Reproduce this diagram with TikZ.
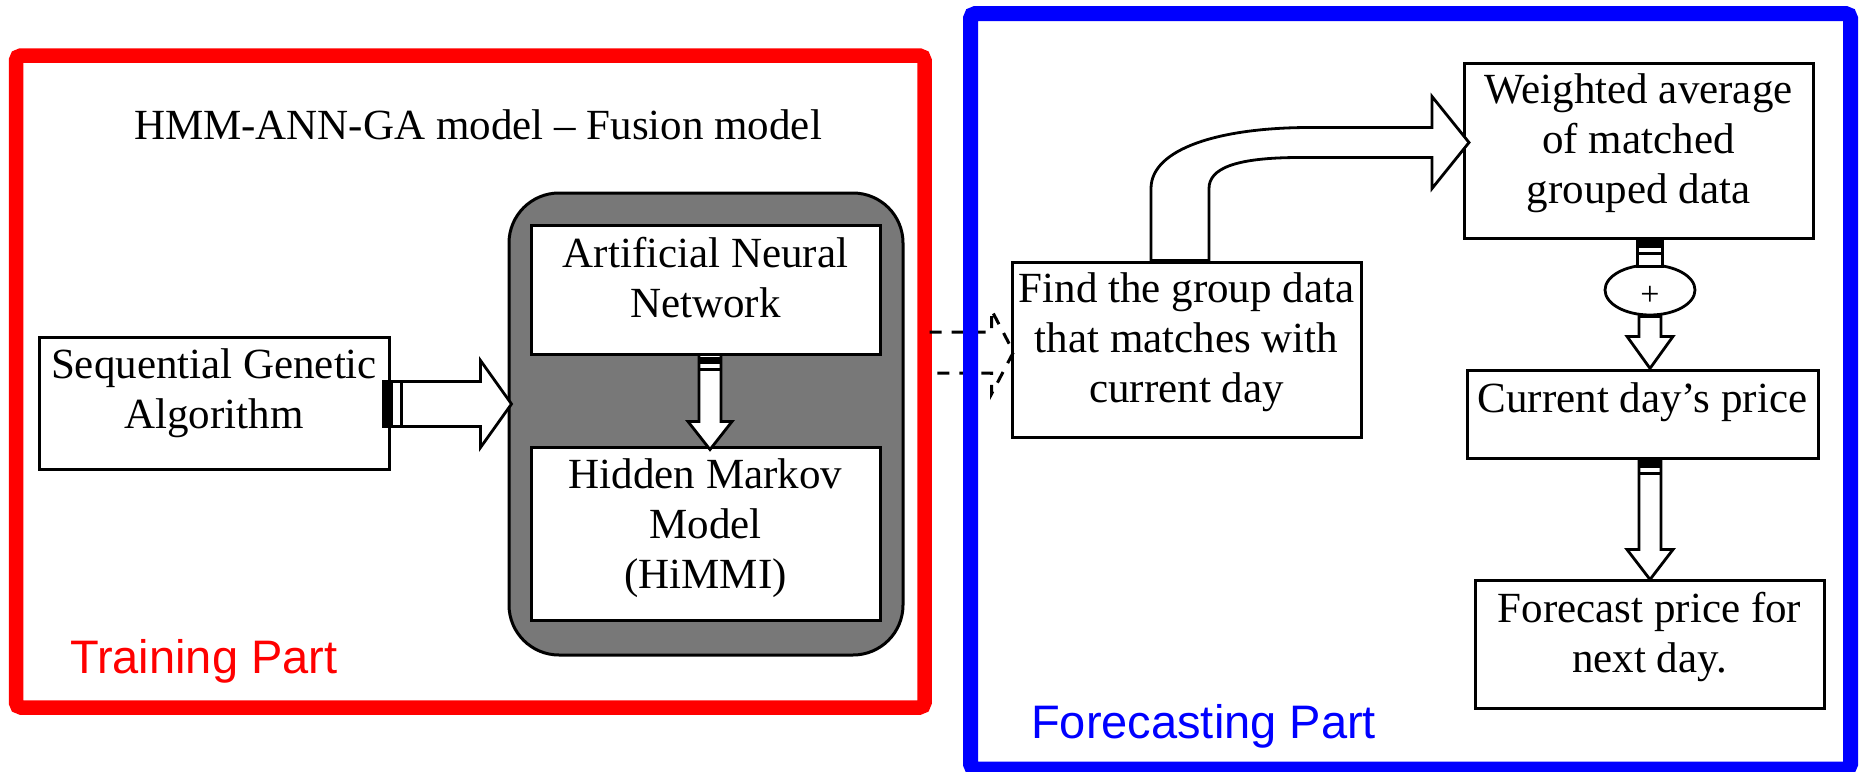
\documentclass[tikz,border=0pt]{standalone}
\usepackage{fontspec}
\setmainfont{Liberation Serif}
\newfontfamily\labelfont{Liberation Sans}
\usetikzlibrary{shapes.geometric,calc}
\definecolor{fusiongray}{RGB}{120,120,120}

% right-pointing block arrow in local coordinates (axis on y=0)
\newcommand\rightblock[5]{% start x, head base x, tip x, shaft half width, head half width
  \draw[blockarr] (#1,-#4) -- (#2,-#4) -- (#2,-#5) -- (#3,0) -- (#2,#5) -- (#2,#4) -- (#1,#4) -- cycle;}
% down-pointing block arrow in local coordinates (axis on x=0, y grows downwards)
\newcommand\downblock[5]{% start y, head base y, tip y, shaft half width, head half width
  \draw[blockarr] (-#4,#1) -- (-#4,#2) -- (-#5,#2) -- (0,#3) -- (#5,#2) -- (#4,#2) -- (#4,#1) -- cycle;}
% dark tail band at the root of a vertical shaft
\newcommand\vtail[1]{%
  \fill[black] (-#1,1) rectangle (#1,8);
  \draw[line width=2.5pt] (-#1,14) -- (#1,14);}

\begin{document}
\begin{tikzpicture}[x=1pt,y=-1pt,
  box/.style={draw=black,line width=3pt,fill=white,inner sep=0pt,align=center,
              font=\fontsize{43}{50}\selectfont},
  blockarr/.style={draw=black,line width=2.8pt,fill=white,line join=miter},
  partlabel/.style={font=\labelfont\fontsize{47}{56}\selectfont,anchor=base west,inner sep=0pt},
]
\useasboundingbox (0,0) rectangle (1860,771);
\fill[white] (0,0) rectangle (1860,771);

% ---------- training part ----------
\node[font=\fontsize{43}{50}\selectfont,anchor=base,inner sep=0pt] (title) at (478,139)
  {HMM-ANN-GA model – Fusion model};

% text height = top edge to last baseline, text depth = last baseline to bottom edge
\node[box,minimum width=350pt,text height=91pt,text depth=41pt] (seq) at (214,403)
  {Sequential Genetic\\Algorithm};

\node[draw=black,line width=3pt,fill=fusiongray,rounded corners=50pt,
      minimum width=394pt,minimum height=462pt,inner sep=0pt] (fusion) at (706,424) {};

\node[box,minimum width=349pt,text height=92pt,text depth=37pt] (ann) at (705.5,289.5)
  {Artificial Neural\\Network};
\node[box,minimum width=349pt,text height=141pt,text depth=32pt] (hmm) at (705.5,533.5)
  {Hidden Markov\\Model\\(HiMMI)};

% ANN -> HMM
\begin{scope}[shift={($(ann.south)+(4.5,0)$)}]
  \downblock{-1}{66}{94}{11}{22}
  \vtail{11}
\end{scope}

% Sequential GA -> fusion model
\begin{scope}[shift={($(seq.east)+(0,1)$)}]
  \rightblock{-7}{90}{121}{22.5}{43.5}
  \fill[black] (-7,-22.5) rectangle (2,22.5);
  \draw[line width=2.5pt] (11,-22.5) -- (11,22.5);
\end{scope}

% ---------- forecasting part ----------
\node[box,minimum width=349pt,text height=140pt,text depth=35pt] (find) at (1186.5,349.5)
  {Find the group data\\that matches with\\current day};

% frames of the two parts
\draw[red,line width=14.5pt,rounded corners=5pt] (16,55.5) rectangle (924.5,707.5);

% training part -> find (dashed block arrow leaving the red frame)
\begin{scope}[shift={(find.west)}]
  \draw[line width=3pt,dash pattern=on 12pt off 10pt]
    (-81,-17.5) -- (-19,-17.5) -- (-19,-39.5) -- (3,2.5) -- (-19,44.5) -- (-19,23.5) -- (-81,23.5);
\end{scope}

\draw[blue,line width=15pt,rounded corners=5pt] (970.5,13.5) rectangle (1850.5,769);

\node[partlabel,text=red] (trainlabel) at (70,673) {Training Part};
\node[partlabel,text=blue] (forelabel) at (1031,738) {Forecasting Part};

\node[box,minimum width=349pt,text height=140pt,text depth=35pt] (weighted) at (1638.5,150.5)
  {Weighted average\\of matched\\grouped data};

\node[draw=black,line width=2.8pt,fill=white,ellipse,minimum width=90pt,minimum height=50pt,
      inner sep=0pt,font=\fontsize{34}{34}\selectfont,text height=30pt,text depth=0pt] (plus) at (1650,290) {+};

\node[box,minimum width=351pt,text height=42pt,text depth=46pt] (current) at (1642.5,414)
  {Current day’s price};
\node[box,minimum width=349pt,text height=92pt,text depth=36pt] (forecast) at (1649.5,644)
  {Forecast price for\\next day.};

% find -> weighted average (curved block arrow)
\begin{scope}[shift={(find.north)}]
  \draw[blockarr]
    (-35.5,0) -- (-35.5,-72)
    .. controls (-35.5,-112) and (33.5,-133) .. (123.5,-133)
    -- (245.5,-133) -- (245.5,-164) -- (282.5,-118) -- (245.5,-72) -- (245.5,-103)
    -- (113.5,-103)
    .. controls (48.5,-103) and (22.5,-92) .. (22.5,-72)
    -- (22.5,0) -- cycle;
\end{scope}

% weighted average -> sum
\begin{scope}[shift={(weighted.south -| plus.north)}]
  \draw[blockarr] (-12.5,0) rectangle (12.5,27);
  \vtail{12.5}
\end{scope}

% sum -> current day's price
\begin{scope}[shift={(plus.south)}]
  \downblock{0}{20}{52}{11}{23}
\end{scope}

% current day's price -> forecast
\begin{scope}[shift={(current.south -| plus.south)}]
  \downblock{0}{90}{120}{11}{23}
  \vtail{11}
\end{scope}
\end{tikzpicture}
\end{document}
